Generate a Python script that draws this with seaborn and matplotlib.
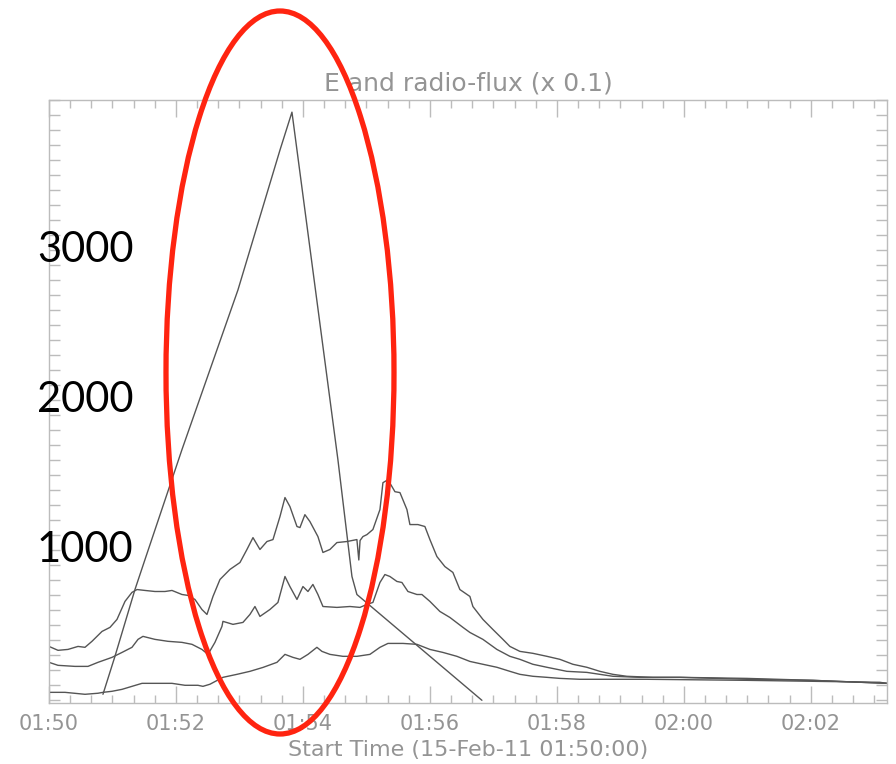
import numpy as np
import pandas as pd
import matplotlib
matplotlib.use("Agg")
import matplotlib.pyplot as plt
import matplotlib.transforms as mtransforms
from matplotlib.patches import Ellipse
from matplotlib.ticker import MultipleLocator, FixedLocator
import seaborn as sns

# ---- data (minutes after 01:50:00, flux) ----
e_time = [0.850, 1.039, 1.354, 1.512, 2.094, 2.976, 3.638, 3.827, 4.551, 4.772, 4.850, 6.819]
e_flux = [40, 293, 738, 938, 1670, 2734, 3666, 3919, 1603, 825, 705, 0]

r1_time = [0.0, 0.142, 0.299, 0.457, 0.567, 0.677, 0.835, 0.961, 1.071, 1.197, 1.307, 1.386,
           1.512, 1.669, 1.827, 1.937, 2.094, 2.189, 2.299, 2.409, 2.488, 2.583, 2.693, 2.850,
           3.008, 3.118, 3.213, 3.323, 3.433, 3.528, 3.638, 3.717, 3.795, 3.906, 3.953, 4.031,
           4.110, 4.236, 4.315, 4.425, 4.535, 4.693, 4.850, 4.880, 4.900, 4.945, 5.008, 5.102,
           5.213, 5.260, 5.339, 5.449, 5.528, 5.638, 5.685, 5.811, 5.921, 6.000, 6.110, 6.236,
           6.362, 6.472, 6.630, 6.677, 6.835, 6.992, 7.150, 7.260, 7.417, 7.622, 7.843, 8.047,
           8.252, 8.472, 8.677, 8.882, 9.102, 9.512, 9.937, 10.992, 12.031, 13.197]
r1_flux = [359, 333, 339, 359, 353, 393, 459, 486, 539, 659, 719, 738,
           732, 725, 725, 732, 705, 699, 672, 605, 572, 692, 805, 872,
           918, 1005, 1084, 1005, 1058, 1071, 1224, 1351, 1291, 1158, 1151, 1237,
           1191, 1091, 985, 1005, 1051, 1058, 1071, 935, 1065, 1091, 1104, 1138,
           1271, 1450, 1470, 1390, 1384, 1271, 1171, 1171, 1158, 1071, 958, 891,
           852, 738, 692, 625, 539, 472, 406, 359, 326, 313, 293, 273,
           240, 220, 193, 173, 160, 153, 153, 146, 133, 113]

r2_time = [0.0, 0.142, 0.409, 0.614, 0.772, 0.992, 1.150, 1.307, 1.402, 1.480, 1.669, 1.874,
           2.094, 2.252, 2.409, 2.504, 2.614, 2.724, 2.740, 2.898, 3.055, 3.165, 3.244, 3.323,
           3.480, 3.606, 3.717, 3.795, 3.906, 4.000, 4.079, 4.157, 4.236, 4.315, 4.535, 4.740,
           4.898, 5.008, 5.102, 5.213, 5.291, 5.370, 5.480, 5.559, 5.654, 5.795, 5.874, 6.000,
           6.157, 6.315, 6.520, 6.630, 6.835, 7.055, 7.260, 7.417, 7.622, 7.843, 8.157, 8.472,
           8.677, 8.882, 9.307, 9.937, 10.992, 12.031, 13.197]
r2_flux = [253, 233, 226, 226, 253, 286, 319, 353, 406, 426, 406, 393,
           386, 373, 339, 306, 386, 492, 526, 506, 519, 572, 625, 559,
           605, 652, 825, 758, 672, 758, 725, 772, 705, 625, 619, 625,
           619, 639, 652, 785, 838, 825, 792, 785, 725, 705, 705, 659,
           592, 552, 486, 452, 406, 339, 293, 273, 240, 220, 193, 186,
           173, 160, 153, 153, 140, 133, 113]

r3_time = [0.0, 0.252, 0.567, 0.772, 0.850, 0.992, 1.150, 1.307, 1.465, 1.669, 1.937, 2.142,
           2.346, 2.425, 2.535, 2.740, 2.961, 3.165, 3.370, 3.591, 3.717, 3.843, 3.953, 4.079,
           4.220, 4.299, 4.425, 4.630, 4.850, 5.055, 5.213, 5.339, 5.575, 5.795, 6.000, 6.205,
           6.425, 6.630, 6.835, 7.055, 7.260, 7.417, 7.622, 7.843, 8.047, 8.362, 9.417, 10.992,
           13.087, 13.197]
r3_flux = [53, 53, 40, 47, 53, 60, 73, 93, 113, 113, 113, 100,
           100, 93, 107, 153, 173, 193, 219, 253, 306, 286, 273, 306,
           353, 326, 306, 293, 293, 306, 353, 379, 379, 373, 339, 319,
           293, 259, 240, 220, 193, 173, 160, 153, 146, 140, 140, 133,
           120, 113]

x_tick_vals = [0, 2, 4, 6, 8, 10, 12]
x_tick_labels = ["01:50", "01:52", "01:54", "01:56", "01:58", "02:00", "02:02"]
y_label_vals = [1000, 2000, 3000]
y_label_text = ["1000", "2000", "3000"]
title_text = "E and radio-flux (x 0.1)"
xlabel_text = "Start Time (15-Feb-11 01:50:00)"

frames = []
for name, t, v in [("E", e_time, e_flux), ("R1", r1_time, r1_flux),
                   ("R2", r2_time, r2_flux), ("R3", r3_time, r3_flux)]:
    frames.append(pd.DataFrame({"series": name, "time": t, "flux": v}))
df = pd.concat(frames, ignore_index=True)

sns.set_theme(style="white")
plt.rcParams['font.family'] = ['DejaVu Sans']

axis_gray = "#bcbcbc"
text_gray = "#949494"
line_gray = "#555555"

fig = plt.figure(figsize=(8.96, 7.64), dpi=100)
ax = fig.add_axes([49 / 896, 61 / 764, 838 / 896, 603 / 764])

sns.lineplot(data=df, x="time", y="flux", hue="series",
             palette={k: line_gray for k in ["E", "R1", "R2", "R3"]},
             estimator=None, sort=False, legend=False, linewidth=1.0, ax=ax)

ax.set_xlim(0, 13.2)
ax.set_ylim(-18, 4000)

ax.xaxis.set_major_locator(FixedLocator(x_tick_vals))
ax.set_xticklabels(x_tick_labels)
ax.xaxis.set_minor_locator(MultipleLocator(1 / 3))
ax.yaxis.set_major_locator(MultipleLocator(100))

ax.tick_params(axis="x", which="major", direction="in", length=12, width=1.0,
               colors=axis_gray, labelcolor=text_gray, labelsize=15, pad=8,
               top=True, bottom=True)
ax.tick_params(axis="x", which="minor", direction="in", length=6, width=1.0,
               colors=axis_gray, top=True, bottom=True)
ax.tick_params(axis="y", which="major", direction="in", length=8, width=1.0,
               colors=axis_gray, left=True, right=True, labelleft=False)

for s in ax.spines.values():
    s.set_color(axis_gray)
    s.set_linewidth(1.0)

ax.set_xlabel(xlabel_text, color=text_gray, fontsize=16, labelpad=4)
ax.set_ylabel("")
ax.set_title(title_text, color=text_gray, fontsize=18, pad=7)

# overlaid y labels
trans = mtransforms.blended_transform_factory(fig.transFigure, ax.transData)
for v, s in zip(y_label_vals, y_label_text):
    ax.text(37 / 896, v, s, transform=trans, ha="left", va="center",
            fontsize=30, family=["Lato", "DejaVu Sans"], color="black", zorder=5)

# red highlight ellipse
ell = Ellipse((280 / 896, 1 - 372.5 / 764), 228 / 896, 723 / 764,
              transform=fig.transFigure, fill=False, edgecolor="#FF2410",
              linewidth=3.8, zorder=10)
fig.add_artist(ell)

fig.savefig("out.png", dpi=100)
